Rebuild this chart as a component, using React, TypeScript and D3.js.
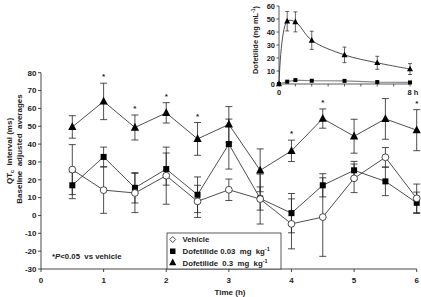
import React from "react";
import * as d3 from "d3";

const times = [0.5, 1, 1.5, 2, 2.5, 3, 3.5, 4, 4.5, 5, 5.5, 6];
const vehicle = [25.7, 14.2, 12.6, 22.3, 7.9, 14.4, 9.2, -4.7, -0.9, 20.8, 32.6, 9.6];
const vehicleErr = [14, 13, 11, 16, 9, 6, 14, 14, 22, 8, 5.5, 8];
const lowDose = [16.9, 32.8, 15.5, 26, 11.6, 40, 9.5, 1.3, 16.9, 25.3, 19.1, 7.1];
const lowDoseErr = [7.5, 5.5, 8.5, 9, 10, 14, 6.5, 11, 6.5, 5, 8, 6];
const highDose = [49.6, 63.9, 49.3, 57.5, 42.9, 51, 25.3, 36.2, 54.3, 44.4, 54.1, 47.8];
const highDoseErr = [6.3, 10.2, 7, 5.7, 9.2, 10, 12, 6, 5.4, 9.5, 11.4, 11.5];
const sigTimes = [1, 1.5, 2, 2.5, 4, 4.5, 6];

const yTicks = [-30, -20, -10, 0, 10, 20, 30, 40, 50, 60, 70, 80];
const xTicks = [0, 1, 2, 3, 4, 5, 6];

const pkTimes = [0, 0.5, 1, 2, 4, 6, 8];
const pkHigh = [0, 48.3, 47.8, 33.6, 22.4, 16.3, 11.5];
const pkHighErr = [0, 7.5, 7.7, 7, 6, 5, 4.2];
const pkLow = [0, 1.8, 3, 2.5, 2.4, 1.5, 1.2];
const pkYTicks = [0, 10, 20, 30, 40, 50, 60];
const pkXTicks = [0, 1, 2, 3, 4, 5, 6, 7, 8];

const FONT = "'Liberation Sans', Arial, sans-serif";

export default function App() {
  const x = d3.scaleLinear().domain([0, 6]).range([41, 416.7]);
  const y = d3.scaleLinear().domain([-30, 80]).range([269, 72.7]);
  const ix = d3.scaleLinear().domain([0, 8]).range([279, 410]);
  const iy = d3.scaleLinear().domain([0, 60]).range([84, 6]);

  const line = d3
    .line<[number, number]>()
    .x((d) => x(d[0]))
    .y((d) => y(d[1]));
  const pkLine = d3
    .line<[number, number]>()
    .x((d) => ix(d[0]))
    .y((d) => iy(d[1]))
    .curve(d3.curveCatmullRom.alpha(0.5));
  const pkLowLine = d3
    .line<[number, number]>()
    .x((d) => ix(d[0]))
    .y((d) => iy(d[1]));

  const zip = (a: number[], b: number[]) => a.map((v, i) => [v, b[i]] as [number, number]);

  const errBars = (vals: number[], errs: number[], key: string) =>
    times.map((t, i) => {
      const cx = x(t);
      const y1 = y(vals[i] + errs[i]);
      const y2 = y(vals[i] - errs[i]);
      return (
        <g key={key + i} stroke="#222" strokeWidth={0.8}>
          <line x1={cx} x2={cx} y1={y1} y2={y2} />
          <line x1={cx - 3.5} x2={cx + 3.5} y1={y1} y2={y1} />
          <line x1={cx - 3.5} x2={cx + 3.5} y1={y2} y2={y2} />
        </g>
      );
    });

  const tri = (cx: number, cy: number, s: number) =>
    `M${cx},${cy - s * 0.62}L${cx + s * 0.55},${cy + s * 0.42}L${cx - s * 0.55},${cy + s * 0.42}Z`;

  return (
    <svg
      width={421}
      height={297}
      style={{ position: "absolute", left: 0, top: 0, background: "#fff" }}
      fontFamily={FONT}
    >
      <rect x={0} y={0} width={421} height={297} fill="#fff" />

      {/* main axes */}
      <g stroke="#333" strokeWidth={0.9}>
        <line x1={x(0)} x2={x(0)} y1={y(80)} y2={y(-30)} />
        <line x1={x(0)} x2={x(6)} y1={y(-30)} y2={y(-30)} />
        {yTicks.map((t) => (
          <line key={"yt" + t} x1={x(0) - 3} x2={x(0)} y1={y(t)} y2={y(t)} />
        ))}
        {xTicks.map((t) => (
          <line key={"xt" + t} x1={x(t)} x2={x(t)} y1={y(-30)} y2={y(-30) + 3} />
        ))}
      </g>
      <g fontSize={8} fontWeight="bold" fill="#222">
        {yTicks.map((t) => (
          <text key={"yl" + t} x={x(0) - 4.5} y={y(t) + 2.8} textAnchor="end">
            {t}
          </text>
        ))}
        {xTicks.map((t) => (
          <text key={"xl" + t} x={x(t)} y={y(-30) + 14} textAnchor="middle">
            {t}
          </text>
        ))}
        <text x={230} y={295} textAnchor="middle" fontSize={8}>
          Time (h)
        </text>
        <text transform="translate(12,151) rotate(-90)" textAnchor="middle" fontSize={8} style={{ whiteSpace: "pre" }}>
          QT<tspan fontSize={5.5} dy={2}>c</tspan>
          <tspan dy={-2}>{"  interval (ms)"}</tspan>
        </text>
        <text transform="translate(21.5,149) rotate(-90)" textAnchor="middle" fontSize={8} style={{ whiteSpace: "pre" }}>
          {"Baseline  adjusted  averages"}
        </text>
      </g>

      {/* error bars */}
      {errBars(vehicle, vehicleErr, "ve")}
      {errBars(lowDose, lowDoseErr, "le")}
      {errBars(highDose, highDoseErr, "he")}

      {/* lines */}
      <path d={line(zip(times, highDose)) || ""} fill="none" stroke="#222" strokeWidth={0.8} />
      <path d={line(zip(times, lowDose)) || ""} fill="none" stroke="#222" strokeWidth={0.8} />
      <path d={line(zip(times, vehicle)) || ""} fill="none" stroke="#222" strokeWidth={0.8} />

      {/* markers */}
      {times.map((t, i) => (
        <path key={"ht" + i} d={tri(x(t), y(highDose[i]), 7.5)} fill="#000" />
      ))}
      {times.map((t, i) => (
        <rect key={"ls" + i} x={x(t) - 3} y={y(lowDose[i]) - 3} width={6} height={6} fill="#000" />
      ))}
      {times.map((t, i) => (
        <circle key={"vc" + i} cx={x(t)} cy={y(vehicle[i])} r={3.4} fill="#fff" stroke="#222" strokeWidth={0.8} />
      ))}

      {/* significance stars */}
      {sigTimes.map((t) => {
        const i = times.indexOf(t);
        return (
          <text key={"s" + t} x={x(t)} y={y(highDose[i] + highDoseErr[i] + 5) + 5} textAnchor="middle" fontSize={8} fontWeight="bold" fill="#222">
            *
          </text>
        );
      })}

      <text x={52} y={259} fontSize={7.8} fontWeight="bold" fill="#222" style={{ whiteSpace: "pre" }}>
        *<tspan fontStyle="italic">P</tspan>
        {"<0.05  vs vehicle"}
      </text>

      {/* legend */}
      <rect x={167} y={233} width={114} height={36} fill="#fff" stroke="#333" strokeWidth={0.8} />
      <g fontSize={7.8} fontWeight="bold" fill="#222">
        <path d={`M172.7,236.5L175.7,239.5L172.7,242.5L169.7,239.5Z`} fill="#fff" stroke="#222" strokeWidth={0.8} />
        <text x={182.5} y={242}>Vehicle</text>
        <rect x={170} y={248.5} width={5.5} height={5.5} fill="#000" />
        <text x={182.5} y={254} style={{ whiteSpace: "pre" }}>
          {"Dofetilide 0.03  mg  kg"}
          <tspan fontSize={5.5} dy={-3}>-1</tspan>
        </text>
        <path d={tri(172.7, 262.5, 6.5)} fill="#000" />
        <text x={182.5} y={265.5} style={{ whiteSpace: "pre" }}>
          {"Dofetilide  0.3  mg  kg"}
          <tspan fontSize={5.5} dy={-3}>-1</tspan>
        </text>
      </g>

      {/* inset */}
      <g stroke="#333" strokeWidth={0.8}>
        <line x1={ix(0)} x2={ix(0)} y1={iy(60)} y2={iy(0)} />
        <line x1={ix(0)} x2={ix(8)} y1={iy(0)} y2={iy(0)} />
        {pkYTicks.map((t) => (
          <line key={"iyt" + t} x1={ix(0) - 2.5} x2={ix(0)} y1={iy(t)} y2={iy(t)} />
        ))}
        {pkXTicks.map((t) => (
          <line key={"ixt" + t} x1={ix(t)} x2={ix(t)} y1={iy(0)} y2={iy(0) + 2.5} />
        ))}
      </g>
      <g fontSize={7.5} fontWeight="bold" fill="#222">
        {pkYTicks.map((t) => (
          <text key={"iyl" + t} x={ix(0) - 4} y={iy(t) + 2.7} textAnchor="end">
            {t}
          </text>
        ))}
        <text x={ix(0)} y={iy(0) + 11} textAnchor="middle">0</text>
        <text x={ix(8) + 3} y={iy(0) + 11} textAnchor="middle">8 h</text>
        <text transform="translate(258,40) rotate(-90)" textAnchor="middle" fontSize={7.5}>
          Dofetilide (ng mL
          <tspan fontSize={5} dy={-3}>-1</tspan>
          <tspan dy={3}>)</tspan>
        </text>
      </g>
      {pkTimes.map((t, i) =>
        pkHighErr[i] > 0 ? (
          <g key={"pe" + i} stroke="#222" strokeWidth={0.7}>
            <line x1={ix(t)} x2={ix(t)} y1={iy(pkHigh[i] + pkHighErr[i])} y2={iy(pkHigh[i] - pkHighErr[i])} />
            <line x1={ix(t) - 2} x2={ix(t) + 2} y1={iy(pkHigh[i] + pkHighErr[i])} y2={iy(pkHigh[i] + pkHighErr[i])} />
            <line x1={ix(t) - 2} x2={ix(t) + 2} y1={iy(pkHigh[i] - pkHighErr[i])} y2={iy(pkHigh[i] - pkHighErr[i])} />
          </g>
        ) : null
      )}
      <path d={pkLine(zip(pkTimes, pkHigh)) || ""} fill="none" stroke="#222" strokeWidth={0.8} />
      <path d={pkLowLine(zip(pkTimes, pkLow)) || ""} fill="none" stroke="#888" strokeWidth={1.2} />
      {pkTimes.map((t, i) => (
        <path key={"pt" + i} d={tri(ix(t), iy(pkHigh[i]), 5.5)} fill="#000" />
      ))}
      {pkTimes.map((t, i) => (
        <rect key={"ps" + i} x={ix(t) - 2} y={iy(pkLow[i]) - 2} width={4} height={4} fill="#000" />
      ))}
    </svg>
  );
}
